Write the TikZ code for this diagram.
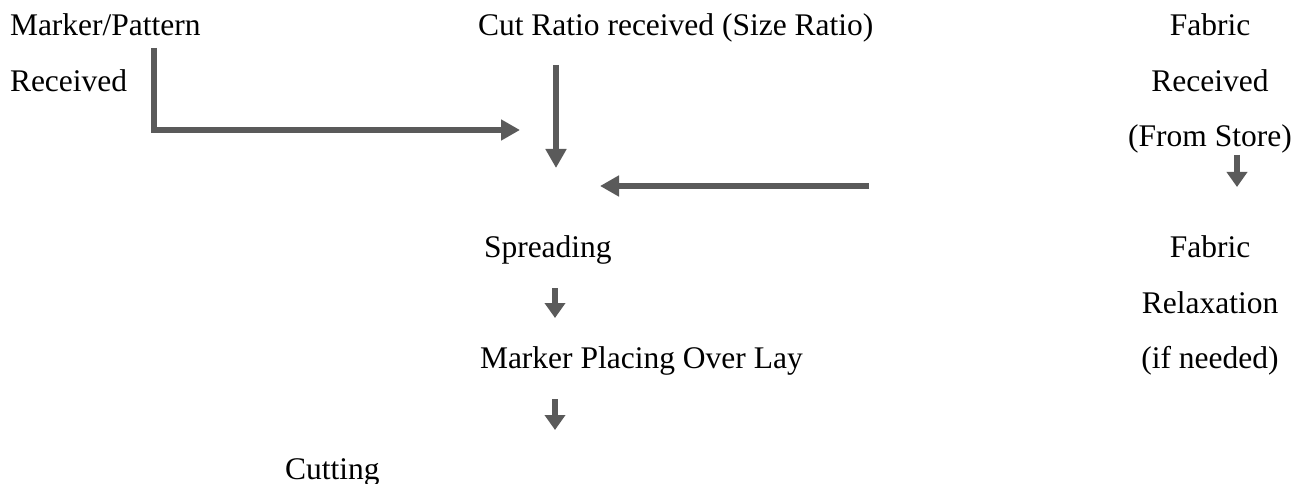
\documentclass[tikz,border=0pt]{standalone}
\usepackage{fontspec}
\setmainfont{Liberation Serif}
\usetikzlibrary{arrows.meta}
\definecolor{arrowgray}{RGB}{90,90,90}
\tikzset{
  label/.style={anchor=base west, inner sep=0pt, outer sep=0pt,
    font=\fontsize{31.5}{37}\selectfont},
  clabel/.style={anchor=base, inner sep=0pt, outer sep=0pt,
    font=\fontsize{31.5}{37}\selectfont},
  flow/.style={draw=arrowgray, line width=6pt,
    -{Triangle[width=20pt,length=19pt]}, color=arrowgray},
  shortflow/.style={flow, -{Triangle[width=20pt,length=15pt]}}
}
\begin{document}
\begin{tikzpicture}[x=1pt,y=-1pt]
  \useasboundingbox (0,0) rectangle (1310,484);

  % left column
  \node[label] (mp1) at (10,36)    {Marker/Pattern};
  \node[label] (mp2) at (10,91.4)  {Received};

  % middle column
  \node[label] (cut)    at (478,36)    {Cut Ratio received (Size Ratio)};
  \node[label] (spread) at (484,257.6) {Spreading};
  \node[label] (place)  at (480,368.4) {Marker Placing Over Lay};
  \node[label] (cutting) at (285,479.2) {Cutting};

  % right column
  \node[clabel] (fab1) at (1210,36)    {Fabric};
  \node[clabel] (fab2) at (1210,91.4)  {Received};
  \node[clabel] (fab3) at (1210,146.8) {(From Store)};
  \node[clabel] (rel1) at (1210,257.6) {Fabric};
  \node[clabel] (rel2) at (1210,313)   {Relaxation};
  \node[clabel] (rel3) at (1210,368.4) {(if needed)};

  % connector end points
  \coordinate (mpTop)    at (154,48);
  \coordinate (mpCorner) at (154,130);
  \coordinate (mpEnd)    at (520,130);
  \coordinate (cutTop)   at (556,65);
  \coordinate (cutEnd)   at (556,168);
  \coordinate (fabStart) at (869,186);
  \coordinate (fabEnd)   at (600,186);
  \coordinate (storeTop) at (1237,155);
  \coordinate (storeEnd) at (1237,187);
  \coordinate (spTop)    at (555,288);
  \coordinate (spEnd)    at (555,318);
  \coordinate (plTop)    at (555,399);
  \coordinate (plEnd)    at (555,430);

  % arrows
  \draw[flow, line join=miter] (mpTop) -- (mpCorner) -- (mpEnd);
  \draw[flow] (cutTop) -- (cutEnd);
  \draw[flow] (fabStart) -- (fabEnd);
  \draw[shortflow] (storeTop) -- (storeEnd);
  \draw[shortflow] (spTop) -- (spEnd);
  \draw[shortflow] (plTop) -- (plEnd);
\end{tikzpicture}
\end{document}
